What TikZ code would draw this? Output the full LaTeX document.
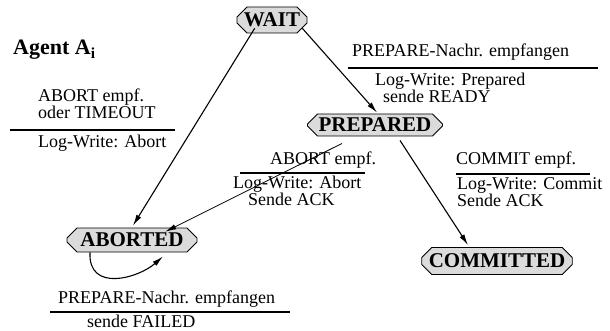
\documentclass[tikz,border=0pt]{standalone}
\usepackage{fontspec}
\setmainfont{Liberation Serif}
\usetikzlibrary{arrows.meta,shapes.misc,calc}
\begin{document}
\begin{tikzpicture}[x=1pt,y=-1pt,
  state/.style={chamfered rectangle, chamfered rectangle xsep=7pt,
    draw=black, line width=0.9pt, fill=gray!28, inner sep=0pt,
    font=\bfseries\fontsize{21}{21}\selectfont},
  lbl/.style={anchor=base west, inner sep=0pt, font=\fontsize{18}{16}\selectfont},
  rule/.style={line width=1.6pt},
  trans/.style={line width=1.1pt, -{Latex[length=11pt,width=5.5pt]}}
]
\useasboundingbox (0,0) rectangle (610,331);

% states
\node[state, minimum width=68pt, minimum height=26pt] (wait) at (272,20) {WAIT};
\node[state, minimum width=135pt, minimum height=22pt] (prepared) at (375,125) {PREPARED};
\node[state, minimum width=130pt, minimum height=24pt] (aborted) at (132,240) {ABORTED};
\node[state, minimum width=149pt, minimum height=27pt] (committed) at (497,261) {COMMITTED};

% title
\node[anchor=base west, inner sep=0pt, font=\bfseries\fontsize{22}{22}\selectfont] (title) at (13,55) {Agent A\textsubscript{i}};

% transitions
\draw[trans] ($(wait.south west)+(13,0)$) -- ($(aborted.north)+(1,-2)$);
\draw[trans] ($(wait.south east)+(0,0)$) -- ($(prepared.north)+(2,-1)$);
\draw[trans, line width=0.8pt] ($(prepared.south)+(-33,7)$) -- ($(aborted.north east)+(-27,-1)$);
\draw[trans] ($(prepared.south)+(25,4)$) -- ($(committed.north)+(-29,-2)$);
\draw[trans] ($(aborted.south)+(-42,0)$) .. controls +(-2,40) and +(-25,22) .. ($(aborted.south)+(31,4)$);

% WAIT -> PREPARED label (multi-line nodes sit on their last baseline)
\node[lbl] (pa) at (352,57) {PREPARE-Nachr. empfangen};
\coordinate (paL) at (348,68);
\coordinate (paR) at (598,68);
\draw[rule] (paL) -- (paR);
\node[lbl, align=left] (pb) at (375,103) {Log-Write: Prepared\\\hspace*{8pt}sende READY};

% WAIT -> ABORTED label
\node[lbl, align=left] (wa) at (38,119) {ABORT empf.\\oder TIMEOUT};
\coordinate (waL) at (10,130);
\coordinate (waR) at (175,130);
\draw[rule] (waL) -- (waR);
\node[lbl] (wc) at (38,148) {Log-Write: Abort};

% PREPARED -> ABORTED label
\node[lbl] (ma) at (270,165) {ABORT empf.};
\coordinate (maL) at (240,173);
\coordinate (maR) at (365,173);
\draw[rule] (maL) -- (maR);
\node[lbl, align=left] (mb) at (233,206) {Log-Write: Abort\\\hspace*{15pt}Sende ACK};

% PREPARED -> COMMITTED label
\node[lbl] (ca) at (456,165) {COMMIT empf.};
\coordinate (caL) at (456,174);
\coordinate (caR) at (590,174);
\draw[rule] (caL) -- (caR);
\node[lbl, align=left] (cb) at (457,207) {Log-Write: Commit\\Sende ACK};

% ABORTED self loop label
\node[lbl] (ba) at (58,303) {PREPARE-Nachr. empfangen};
\coordinate (baL) at (50,312);
\coordinate (baR) at (290,312);
\draw[rule] (baL) -- (baR);
\node[lbl] (bb) at (87,327) {sende FAILED};
\end{tikzpicture}
\end{document}
